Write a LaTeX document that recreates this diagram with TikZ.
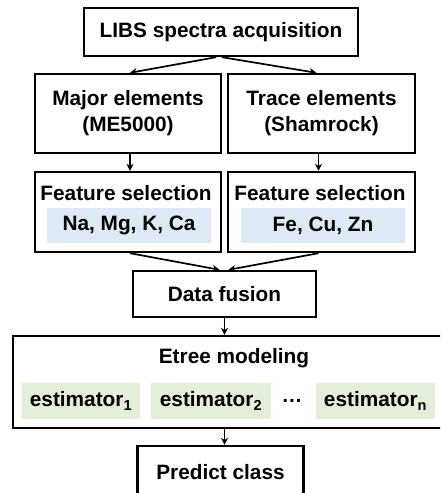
\documentclass[tikz,border=0pt]{standalone}
\usepackage{fontspec}
\setmainfont{Liberation Sans}
\usetikzlibrary{arrows.meta}

\definecolor{featblue}{HTML}{DDEAF6}
\definecolor{estgreen}{HTML}{E3EFDB}

\begin{document}
\begin{tikzpicture}[x=1pt,y=-1pt,
  box/.style={draw,line width=2.4pt,inner sep=0pt,align=center,
    font=\bfseries\fontsize{20.8}{26}\selectfont},
  txt/.style={inner sep=0pt,font=\bfseries\fontsize{20.8}{26}\selectfont},
  tag/.style={txt,minimum height=35pt},
  arr/.style={line width=1.7pt,-{Stealth[length=7pt,width=7pt]}}]
  \clip (0,0) rectangle (440,493);
  \fill[white] (0,0) rectangle (440,493);
  % boxes
  \node[box,minimum width=274pt,minimum height=48pt] (acq) at (221,32) {LIBS spectra acquisition};
  \node[box,minimum width=186pt,minimum height=79pt] (major) at (128,113.5) {Major elements\\(ME5000)};
  \node[box,minimum width=187pt,minimum height=79pt] (trace) at (321.5,113.5) {Trace elements\\(Shamrock)};
  \node[box,minimum width=186pt,minimum height=80pt] (fsL) at (128,212) {};
  \node[box,minimum width=187pt,minimum height=80pt] (fsR) at (321.5,212) {};
  \node[txt] (fsLt) at (126,193) {Feature selection};
  \node[txt] (fsRt) at (320,193) {Feature selection};
  \node[tag,fill=featblue,minimum width=164pt] (elL) at (129,225.5) {Na, Mg, K, Ca};
  \node[tag,fill=featblue,minimum width=164pt] (elR) at (323,225.5) {Fe, Cu, Zn};
  \node[box,minimum width=183pt,minimum height=46pt] (fusion) at (224.5,294) {Data fusion};
  \node[box,minimum width=442pt,minimum height=92pt] (etree) at (234,382) {};
  \node[txt] (etreet) at (234,358) {Etree modeling};
  \foreach \i/\x/\w in {1/81/118,2/211/120,n/375.5/119}
    \node[tag,fill=estgreen,minimum width=\w pt,minimum height=36pt] (est\i) at (\x,401) {estimator\textsubscript{\i}};
  \node[txt] (dots) at (292,401) {\dots};
  \node[box,minimum width=166pt,minimum height=52pt] (predict) at (220.5,472) {Predict class};
  % arrows
  \draw[arr] ([xshift=-5pt]acq.south) -- ([xshift=2pt]major.north);
  \draw[arr] ([xshift=1pt]acq.south) -- ([xshift=-5pt]trace.north);
  \draw[arr] ([xshift=2pt]major.south) -- ([xshift=2pt]fsL.north);
  \draw[arr] ([xshift=-3pt]trace.south) -- ([xshift=-3pt]fsR.north);
  \draw[arr] ([xshift=2pt]fsL.south) -- ([xshift=-5pt]fusion.north);
  \draw[arr] ([xshift=-3pt]fsR.south) -- ([xshift=4pt]fusion.north);
  \draw[arr] (fusion.south) -- (fusion.south |- etree.north);
  \draw[arr] (fusion.south |- etree.south) -- (fusion.south |- predict.north);
\end{tikzpicture}
\end{document}
